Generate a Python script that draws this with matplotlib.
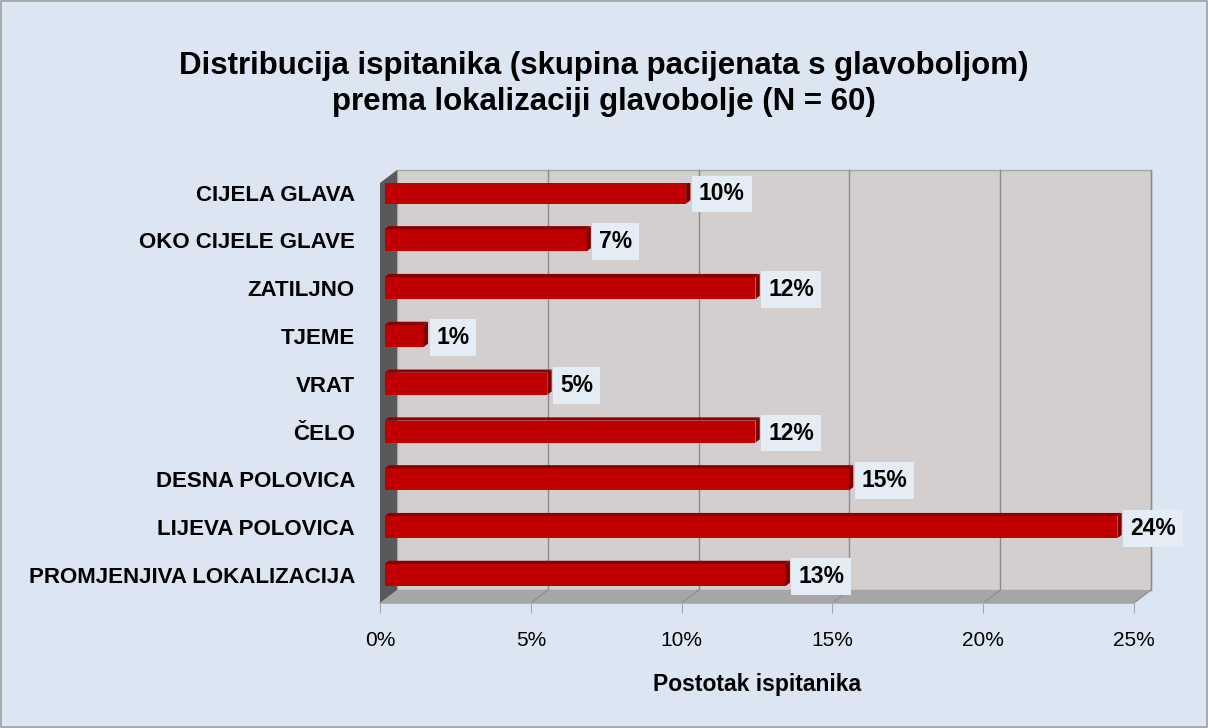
import matplotlib
matplotlib.use('Agg')
import matplotlib.pyplot as plt
from matplotlib.patches import Polygon, Rectangle

plt.rcParams['font.family'] = ['Liberation Sans', 'DejaVu Sans']

# podaci (odozgo prema dolje)
kategorije = ['CIJELA GLAVA', 'OKO CIJELE GLAVE', 'ZATILJNO', 'TJEME', 'VRAT',
              'ČELO', 'DESNA POLOVICA', 'LIJEVA POLOVICA', 'PROMJENJIVA LOKALIZACIJA']
postotci = [10.0, 6.7, 12.3, 1.3, 5.4, 12.3, 15.4, 24.3, 13.3]
x_ticks = [0, 5, 10, 15, 20, 25]
x_tick_labels = ['0%', '5%', '10%', '15%', '20%', '25%']

naslov = 'Distribucija ispitanika (skupina pacijenata s glavoboljom)\nprema lokalizaciji glavobolje (N = 60)'

W, H = 1208, 728
fig = plt.figure(figsize=(W / 100, H / 100), dpi=100)
fig.patch.set_facecolor('#dce6f2')
fig.add_artist(Rectangle((0.001, 0.001), 0.998, 0.997, transform=fig.transFigure,
                         fill=False, edgecolor='#a0a0a0', linewidth=1.2))

# front plane of the 3D box in pixels
left, right, top, bottom = 380, 1134, 183, 603
ax = fig.add_axes([left / W, 1 - bottom / H, (right - left) / W, (bottom - top) / H])
ax.set_facecolor('none')
for s in ax.spines.values():
    s.set_visible(False)

n = len(kategorije)
ypos = list(range(n - 1, -1, -1))
ylo, yhi = -0.586, 8.2
xmax = 25
ax.set_xlim(0, xmax)
ax.set_ylim(ylo, yhi)

# depth offset in data units
dx = 17 * xmax / (right - left)
dy = 13 * (yhi - ylo) / (bottom - top)

# back wall
ax.add_patch(Rectangle((dx, ylo + dy), xmax, yhi - ylo, facecolor='#d3cfcf',
                       edgecolor='#a6a6a6', linewidth=1, zorder=0, clip_on=False))
for t in x_ticks[1:]:
    ax.plot([t + dx, t + dx], [ylo + dy, yhi + dy], color='#8c8c8c', lw=1, zorder=1, clip_on=False)
    ax.plot([t, t + dx], [ylo, ylo + dy], color='#8c8c8c', lw=0.8, zorder=2, clip_on=False)
# floor
ax.add_patch(Polygon([(0, ylo), (xmax, ylo), (xmax + dx, ylo + dy), (dx, ylo + dy)],
                     closed=True, facecolor='#a6a6a6', edgecolor='none', zorder=1, clip_on=False))
# left wall
ax.add_patch(Polygon([(0, ylo), (dx, ylo + dy), (dx, yhi + dy), (0, yhi)],
                     closed=True, facecolor='#595959', edgecolor='none', zorder=1, clip_on=False))
# front axis line with ticks
ax.plot([0, xmax], [ylo, ylo], color='#a6a6a6', lw=1.2, zorder=3, clip_on=False)

# bars
bh = 0.46
bdx, bdy = dx * 0.25, dy * 0.25
for y, v in zip(ypos, postotci):
    ax.barh(y, v, height=bh, left=0.15, color='#c00000', edgecolor='none', zorder=4)
    ax.add_patch(Polygon([(0.15, y + bh / 2), (0.15 + v, y + bh / 2),
                          (0.15 + v + bdx, y + bh / 2 + bdy), (0.15 + bdx, y + bh / 2 + bdy)],
                         closed=True, facecolor='#8b0000', edgecolor='none', zorder=4))
    ax.add_patch(Polygon([(0.15 + v, y - bh / 2), (0.15 + v + bdx, y - bh / 2 + bdy),
                          (0.15 + v + bdx, y + bh / 2 + bdy), (0.15 + v, y + bh / 2)],
                         closed=True, facecolor='#7a0000', edgecolor='none', zorder=4))
    ax.text(0.15 + v + 0.42, y - 0.03, f'{v:.0f}%', ha='left', va='center',
            fontsize=16.5, fontweight='bold', color='black', zorder=6,
            bbox=dict(boxstyle='square,pad=0.3', facecolor='#e4ecf6', edgecolor='none'))

ax.set_yticks(ypos)
ax.set_yticklabels(kategorije, fontsize=16, fontweight='bold')
ax.tick_params(axis='y', length=0, pad=18)
ax.set_xticks(x_ticks)
ax.set_xticklabels(x_tick_labels, fontsize=15)
ax.tick_params(axis='x', length=7, color='#a6a6a6', pad=13)
ax.set_xlabel('Postotak ispitanika', fontsize=16.5, fontweight='bold', labelpad=17)

fig.text(0.5, 1 - 84 / H, naslov, ha='center', va='center', fontsize=22.5,
         fontweight='bold', linespacing=1.25)

fig.savefig('out.png', dpi=100, facecolor=fig.get_facecolor())
